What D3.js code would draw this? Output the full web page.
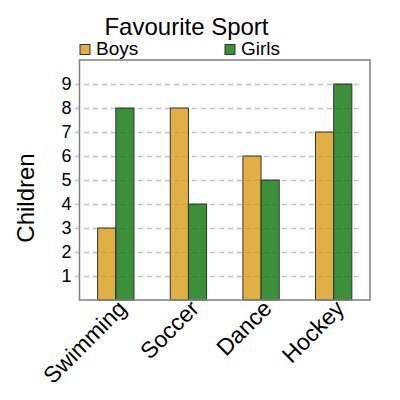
<!DOCTYPE html>
<html>
<head>
<meta charset="utf-8">
<script src="https://cdn.jsdelivr.net/npm/d3@7"></script>
<style>
  body { margin: 0; background: #fff; }
  svg { font-family: "Liberation Sans", Arial, sans-serif; }
</style>
</head>
<body>
<div id="chart"></div>
<script>
const sports = ["Swimming", "Soccer", "Dance", "Hockey"];
const series = ["Boys", "Girls"];
const boys = [3, 8, 6, 7];
const girls = [8, 4, 5, 9];
const yTicks = [1, 2, 3, 4, 5, 6, 7, 8, 9];

const colors = { Boys: "#DAA226", Girls: "#1A7C1A" };

const width = 400, height = 400;
const plot = { left: 79.5, right: 370, top: 60, bottom: 300 };

const svg = d3.select("#chart").append("svg")
  .attr("width", width)
  .attr("height", height);

const x0 = d3.scaleBand()
  .domain(sports)
  .range([plot.left, plot.right])
  .padding(0);

const x1 = d3.scaleBand()
  .domain(series)
  .range([0, x0.bandwidth() * 0.5]);

const y = d3.scaleLinear()
  .domain([0, 10])
  .range([plot.bottom, plot.top]);

// dashed grid lines
const grid = svg.append("g")
  .attr("transform", `translate(75,0)`)
  .call(d3.axisLeft(y).tickValues(yTicks).tickSize(-(361 - 75)).tickFormat(""));
grid.select(".domain").remove();
grid.selectAll(".tick line")
  .attr("stroke", "#c4c4c4")
  .attr("stroke-width", 1.5)
  .attr("stroke-dasharray", "5,4");

// bars
const rows = sports.map((s, i) => ({ sport: s, Boys: boys[i], Girls: girls[i] }));
svg.append("g")
  .selectAll("g")
  .data(rows)
  .join("g")
  .attr("transform", d => `translate(${x0(d.sport) + x0.bandwidth() * 0.25},0)`)
  .selectAll("rect")
  .data(d => series.map(k => ({ key: k, value: d[k] })))
  .join("rect")
  .attr("x", d => x1(d.key))
  .attr("y", d => y(d.value))
  .attr("width", x1.bandwidth())
  .attr("height", d => y(0) - y(d.value))
  .attr("fill", d => colors[d.key])
  .attr("fill-opacity", 0.85)
  .attr("stroke", "#333")
  .attr("stroke-width", 1);

// frame
svg.append("rect")
  .attr("x", plot.left)
  .attr("y", plot.top)
  .attr("width", plot.right - plot.left)
  .attr("height", plot.bottom - plot.top)
  .attr("fill", "none")
  .attr("stroke", "#808080")
  .attr("stroke-width", 1.5);

// y tick labels
const yAxis = svg.append("g")
  .attr("transform", `translate(${plot.left},0)`)
  .call(d3.axisLeft(y).tickValues(yTicks).tickSize(0).tickPadding(8));
yAxis.select(".domain").remove();
yAxis.selectAll("text")
  .attr("font-family", "Liberation Sans, Arial, sans-serif")
  .attr("font-size", 18)
  .attr("fill", "#000");

// x labels
svg.append("g")
  .selectAll("text")
  .data(sports)
  .join("text")
  .attr("transform", d => `translate(${x0(d) + x0.bandwidth() / 2 + 12},310) rotate(-45)`)
  .attr("text-anchor", "end")
  .attr("font-size", 23)
  .text(d => d);

// y label
svg.append("text")
  .attr("transform", `translate(34,198) rotate(-90)`)
  .attr("text-anchor", "middle")
  .attr("font-size", 24)
  .text("Children");

// title
svg.append("text")
  .attr("x", 186.5)
  .attr("y", 35)
  .attr("text-anchor", "middle")
  .attr("font-size", 24)
  .text("Favourite Sport");

// legend
const legendX = [80, 225];
const legend = svg.append("g")
  .selectAll("g")
  .data(series)
  .join("g")
  .attr("transform", (d, i) => `translate(${legendX[i]},44.5)`);
legend.append("rect")
  .attr("width", 10)
  .attr("height", 10)
  .attr("fill", d => colors[d])
  .attr("fill-opacity", 0.85)
  .attr("stroke", "#333")
  .attr("stroke-width", 1);
legend.append("text")
  .attr("x", 16)
  .attr("y", 10.5)
  .attr("font-size", 19)
  .text(d => d);
</script>
</body>
</html>
